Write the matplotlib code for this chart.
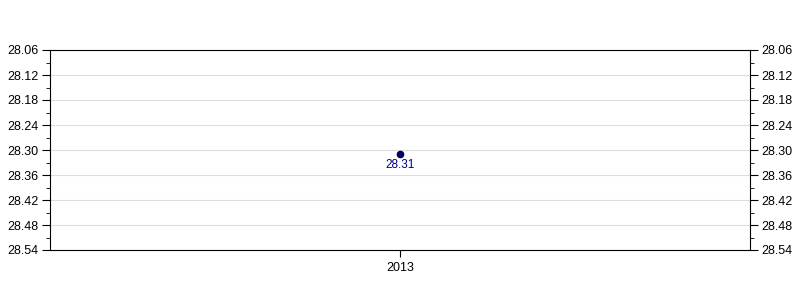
import matplotlib
matplotlib.use("Agg")
import matplotlib.pyplot as plt
import numpy as np

# data
years = ["2013"]
values = [28.31]
y_ticks = [28.06, 28.12, 28.18, 28.24, 28.30, 28.36, 28.42, 28.48, 28.54]

plt.rcParams['font.family'] = ['Liberation Sans', 'DejaVu Sans']

fig = plt.figure(figsize=(8, 3), dpi=100)
ax = fig.add_axes([0.0625, 1 / 6, 0.875, 2 / 3])

x = np.arange(len(years))
ax.plot(x, values, "o", color="#000080", markersize=4.5,
        markeredgecolor="#000040", zorder=3)
for xi, v in zip(x, values):
    ax.annotate("%.2f" % v, (xi, v), xytext=(0, -3.5), textcoords="offset points",
                ha="center", va="top", fontsize=8.5, color="#000080")

ax.set_xlim(-1, 1)
ax.set_xticks(x)
ax.set_xticklabels(years, fontsize=9)

ax.set_ylim(y_ticks[-1], y_ticks[0])
ax.set_yticks(y_ticks)
ax.set_yticklabels(["%.2f" % t for t in y_ticks], fontsize=9)
ax.set_yticks(np.array(y_ticks[:-1]) + 0.03, minor=True)
ax.yaxis.grid(True, color="#dddddd", linewidth=0.8)
ax.set_axisbelow(True)

ax.tick_params(axis="y", which="major", length=6, left=True, right=True,
               labelleft=True, labelright=True, pad=2)
ax.tick_params(axis="y", which="minor", length=3, left=True, right=True)
ax.tick_params(axis="x", length=5)
for s in ax.spines.values():
    s.set_linewidth(0.8)

fig.savefig("out.png", dpi=100)
